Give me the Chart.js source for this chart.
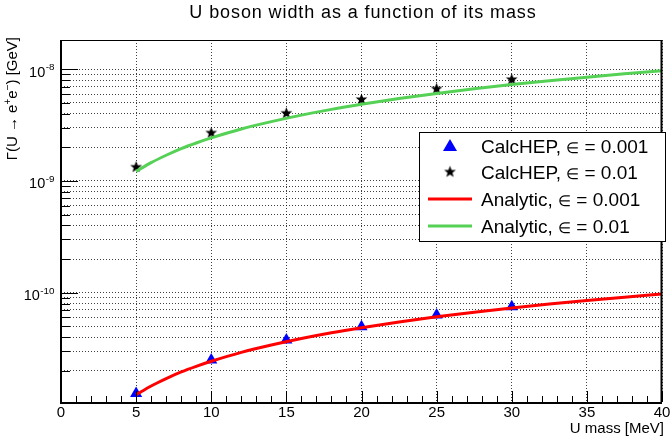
<!DOCTYPE html>
<html>
<head>
<meta charset="utf-8">
<script src="https://cdn.jsdelivr.net/npm/chart.js@4.4.0/dist/chart.umd.min.js"></script>
<style>
  html, body { margin: 0; padding: 0; background: #fff; }
  #wrap { width: 670px; height: 437px; }
</style>
</head>
<body>
<div id="wrap"><canvas id="widthChart" width="670" height="437"></canvas></div>
<script>
// CalcHEP points
const calcMass = [5, 10, 15, 20, 25, 30];
const calcEps001 = [1.25e-11, 2.49e-11, 3.77e-11, 4.96e-11, 6.3e-11, 7.49e-11];
const calcEps01 = [1.33e-9, 2.69e-9, 4.04e-9, 5.36e-9, 6.68e-9, 8.1e-9];

// analytic curves
const curveMass = [5, 6, 7, 8, 9, 10, 12, 14, 16, 18, 20, 22.5, 25, 27.5, 30, 32.5, 35, 37.5, 40];
const analyticEps001 = [1.22e-11, 1.46e-11, 1.70e-11, 1.95e-11, 2.19e-11, 2.43e-11, 2.92e-11, 3.40e-11,
  3.89e-11, 4.38e-11, 4.86e-11, 5.47e-11, 6.08e-11, 6.69e-11, 7.30e-11, 7.90e-11, 8.51e-11, 9.12e-11, 9.73e-11];
const analyticEps01 = [1.22e-9, 1.46e-9, 1.70e-9, 1.95e-9, 2.19e-9, 2.43e-9, 2.92e-9, 3.40e-9,
  3.89e-9, 4.38e-9, 4.86e-9, 5.47e-9, 6.08e-9, 6.69e-9, 7.30e-9, 7.90e-9, 8.51e-9, 9.12e-9, 9.73e-9];

// axes
const xTicks = [0, 5, 10, 15, 20, 25, 30, 35, 40];
const yDecades = [-11, -10, -9, -8];
const yMantissas = [1, 2, 3, 4, 5, 6, 7, 8, 9];
const yLabelDecades = [-10, -9, -8];

const xMin = 0, xMax = 40;
const yMin = 1.05e-11, yMax = 1.83e-8;

const FONT = '"Liberation Sans", Arial, Helvetica, sans-serif';
const GREEN = '#55d155';
const RED = '#ff0000';
const BLUE = '#0000ff';

function pairs(xs, ys) {
  return xs.map((x, i) => ({ x: x, y: ys[i] }));
}

// little filled star for the CalcHEP eps=0.01 markers
function makeStar(r) {
  const c = document.createElement('canvas');
  const size = Math.ceil(r * 2 + 2);
  c.width = size; c.height = size;
  const g = c.getContext('2d');
  g.fillStyle = '#000';
  g.beginPath();
  for (let i = 0; i < 10; i++) {
    const rad = (i % 2 === 0) ? r : r * 0.42;
    const a = -Math.PI / 2 + i * Math.PI / 5;
    const px = size / 2 + rad * Math.cos(a);
    const py = size / 2 + rad * Math.sin(a);
    if (i === 0) g.moveTo(px, py); else g.lineTo(px, py);
  }
  g.closePath();
  g.fill();
  return c;
}
const starImg = makeStar(6.2);

const yTickValues = [];
yDecades.forEach(d => yMantissas.forEach(m => {
  const v = m * Math.pow(10, d);
  if (v >= yMin && v <= yMax) yTickValues.push(v);
}));

const legendItems = [
  { name: 'CalcHEP, ', eps: '0.001', kind: 'triangle' },
  { name: 'CalcHEP, ', eps: '0.01', kind: 'star' },
  { name: 'Analytic, ', eps: '0.001', kind: 'line', color: RED },
  { name: 'Analytic, ', eps: '0.01', kind: 'line', color: GREEN }
];

function drawSup(ctx, base, sup, xRight, yBase, size) {
  ctx.font = size + 'px ' + FONT;
  const wb = ctx.measureText(base).width;
  ctx.font = (size * 0.68) + 'px ' + FONT;
  const ws = ctx.measureText(sup).width;
  const x0 = xRight - ws - wb;
  ctx.font = size + 'px ' + FONT;
  ctx.fillText(base, x0, yBase);
  ctx.font = (size * 0.68) + 'px ' + FONT;
  ctx.fillText(sup, x0 + wb + 0.5, yBase - size * 0.45);
}

const rootFrame = {
  id: 'rootFrame',
  afterDraw(chart) {
    const ctx = chart.ctx;
    const a = chart.chartArea;
    const xs = chart.scales.x, ys = chart.scales.y;
    ctx.save();
    ctx.fillStyle = '#000';
    ctx.strokeStyle = '#000';
    ctx.textBaseline = 'alphabetic';

    // frame
    ctx.lineWidth = 1;
    ctx.strokeRect(a.left + 0.5, a.top + 0.5, a.right - a.left - 1, a.bottom - a.top);
    ctx.lineWidth = 2;
    ctx.beginPath();
    ctx.moveTo(a.left, a.top); ctx.lineTo(a.left, a.bottom + 1);
    ctx.lineTo(a.right, a.bottom + 1);
    ctx.moveTo(a.right - 0.5, a.top); ctx.lineTo(a.right - 0.5, a.bottom);
    ctx.stroke();

    // inner ticks on x
    ctx.lineWidth = 1;
    ctx.beginPath();
    for (let v = xMin; v <= xMax; v++) {
      const px = Math.round(xs.getPixelForValue(v)) + 0.5;
      const len = (v % 5 === 0) ? 11 : 6;
      ctx.moveTo(px, a.bottom); ctx.lineTo(px, a.bottom - len);
    }
    // inner ticks on y
    yTickValues.forEach(v => {
      const py = Math.round(ys.getPixelForValue(v)) + 0.5;
      const isDecade = Math.abs(Math.log10(v) - Math.round(Math.log10(v))) < 1e-9;
      ctx.moveTo(a.left, py); ctx.lineTo(a.left + (isDecade ? 17 : 9), py);
    });
    ctx.stroke();

    // x tick labels
    ctx.font = '15px ' + FONT;
    ctx.textAlign = 'center';
    xTicks.forEach(v => {
      ctx.fillText(String(v), xs.getPixelForValue(v), 417);
    });
    // y tick labels
    ctx.textAlign = 'left';
    yLabelDecades.forEach(d => {
      const py = ys.getPixelForValue(Math.pow(10, d));
      drawSup(ctx, '10', String(d), 54, py + 7.5, 14.5);
    });

    // axis titles
    ctx.font = '15px ' + FONT;
    ctx.textAlign = 'right';
    ctx.fillText('U mass [MeV]', 664, 433);

    ctx.save();
    ctx.translate(17, 37);
    ctx.rotate(-Math.PI / 2);
    const parts = [['\u0393(U \u2192 e', 0], ['+', 1], ['e', 0], ['\u2212', 1], [') [GeV]', 0]];
    let total = 0;
    parts.forEach(p => {
      ctx.font = (p[1] ? 10 : 15) + 'px ' + FONT;
      total += ctx.measureText(p[0]).width;
    });
    let cx = -total;
    ctx.textAlign = 'left';
    parts.forEach(p => {
      ctx.font = (p[1] ? 10 : 15) + 'px ' + FONT;
      ctx.fillText(p[0], cx, p[1] ? -6 : 0);
      cx += ctx.measureText(p[0]).width;
    });
    ctx.restore();

    // title
    ctx.save();
    ctx.font = '18px ' + FONT;
    ctx.letterSpacing = '0.9px';
    ctx.textAlign = 'center';
    ctx.fillText('U boson width as a function of its mass', 363, 18);
    ctx.restore();

    // legend
    const lx = 419, ly = 132, lw = 246, lh = 109;
    ctx.fillStyle = '#fff';
    ctx.fillRect(lx, ly, lw, lh);
    ctx.lineWidth = 1;
    ctx.strokeStyle = '#000';
    ctx.strokeRect(lx + 0.5, ly + 0.5, lw, lh);
    const rowY = [146, 172, 199, 226];
    legendItems.forEach((it, i) => {
      const cy = rowY[i];
      if (it.kind === 'triangle') {
        ctx.fillStyle = BLUE;
        ctx.beginPath();
        ctx.moveTo(450, cy - 7); ctx.lineTo(457, cy + 5); ctx.lineTo(443, cy + 5);
        ctx.closePath(); ctx.fill();
      } else if (it.kind === 'star') {
        ctx.drawImage(starImg, 450 - starImg.width / 2, cy - starImg.height / 2);
      } else {
        ctx.strokeStyle = it.color;
        ctx.lineWidth = 3;
        ctx.beginPath();
        ctx.moveTo(428, cy); ctx.lineTo(472, cy);
        ctx.stroke();
      }
      ctx.fillStyle = '#000';
      ctx.textAlign = 'left';
      let tx = 481;
      const by = cy + 7;
      ctx.font = '19px ' + FONT;
      ctx.fillText(it.name, tx, by);
      tx += ctx.measureText(it.name).width;
      ctx.font = '15px ' + FONT;
      ctx.fillText('\u2208', tx, by);
      tx += ctx.measureText('\u2208').width;
      ctx.font = '19px ' + FONT;
      ctx.fillText(' = ' + it.eps, tx, by);
    });
    ctx.restore();
  }
};

new Chart(document.getElementById('widthChart'), {
  type: 'scatter',
  data: {
    datasets: [
      {
        label: 'Analytic, \u2208 = 0.001',
        type: 'line',
        data: pairs(curveMass, analyticEps001),
        borderColor: RED,
        borderWidth: 3,
        pointRadius: 0,
        cubicInterpolationMode: 'monotone',
        fill: false,
        order: 0
      },
      {
        label: 'Analytic, \u2208 = 0.01',
        type: 'line',
        data: pairs(curveMass, analyticEps01),
        borderColor: GREEN,
        borderWidth: 3,
        pointRadius: 0,
        cubicInterpolationMode: 'monotone',
        fill: false,
        order: 0
      },
      {
        label: 'CalcHEP, \u2208 = 0.001',
        data: pairs(calcMass, calcEps001),
        pointStyle: 'triangle',
        pointRadius: 7,
        backgroundColor: BLUE,
        borderColor: BLUE,
        borderWidth: 0,
        order: 1
      },
      {
        label: 'CalcHEP, \u2208 = 0.01',
        data: pairs(calcMass, calcEps01),
        pointStyle: starImg,
        pointRadius: 7,
        order: 1
      }
    ]
  },
  options: {
    responsive: false,
    animation: false,
    devicePixelRatio: 1,
    layout: { padding: { left: 61, right: 5, top: 40, bottom: 35 } },
    plugins: {
      legend: { display: false },
      title: { display: false },
      tooltip: { enabled: false }
    },
    scales: {
      x: {
        type: 'linear',
        min: xMin,
        max: xMax,
        afterBuildTicks: s => { s.ticks = xTicks.map(v => ({ value: v })); },
        ticks: { display: false },
        grid: { color: 'rgba(0,0,0,0.75)', lineWidth: 1, drawTicks: false },
        border: { display: false, dash: [1, 2] }
      },
      y: {
        type: 'logarithmic',
        min: yMin,
        max: yMax,
        afterBuildTicks: s => { s.ticks = yTickValues.map(v => ({ value: v })); },
        ticks: { display: false },
        grid: { color: 'rgba(0,0,0,0.75)', lineWidth: 1, drawTicks: false },
        border: { display: false, dash: [1, 2] }
      }
    }
  },
  plugins: [rootFrame]
});
</script>
</body>
</html>
